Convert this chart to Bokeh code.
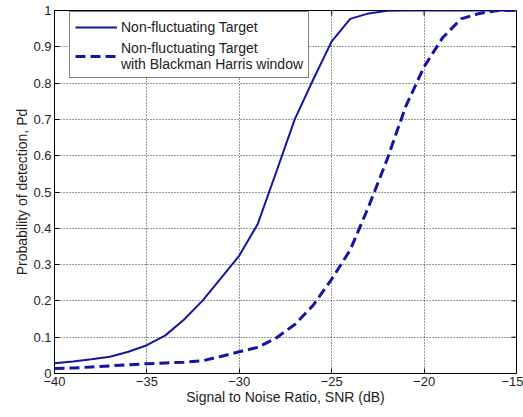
import math
from bokeh.plotting import figure
from bokeh.models import (FixedTicker, CustomJSTickFormatter, Legend,
                          LegendItem, Range1d)
from bokeh.embed import file_html
from bokeh.resources import INLINE

snr_db = [-40, -39, -38, -37, -36, -35, -34, -33, -32, -31, -30, -29, -28,
          -27, -26, -25, -24, -23, -22, -21, -20, -19, -18, -17, -16, -15]
pd_plain = [0.028, 0.033, 0.039, 0.046, 0.060, 0.078, 0.105, 0.148, 0.200,
            0.262, 0.325, 0.412, 0.555, 0.700, 0.810, 0.915, 0.977, 0.992,
            0.999, 1.0, 1.0, 1.0, 1.0, 1.0, 1.0, 1.0]
pd_window = [0.014, 0.015, 0.018, 0.021, 0.024, 0.027, 0.029, 0.031, 0.035,
             0.047, 0.060, 0.072, 0.098, 0.135, 0.188, 0.260, 0.340, 0.460,
             0.590, 0.735, 0.845, 0.925, 0.977, 0.992, 1.0, 1.0]
x_ticks = [-40, -35, -30, -25, -20, -15]
y_ticks = [0, 0.1, 0.2, 0.3, 0.4, 0.5, 0.6, 0.7, 0.8, 0.9, 1]
label_plain = "Non-fluctuating Target"
label_window = "Non-fluctuating Target\nwith Blackman Harris window"
x_title = "Signal to Noise Ratio, SNR (dB)"
y_title = "Probability of detection, Pd"

FONT = "Liberation Sans"
BLUE = "#1414a6"

x_lo, x_hi = -40, -15
y_lo, y_hi = 0, 1

p = figure(width=523, height=417, output_backend="svg", toolbar_location=None,
           x_range=Range1d(x_lo, x_hi), y_range=Range1d(y_lo, y_hi),
           min_border_left=54, min_border_right=7, min_border_top=10,
           min_border_bottom=44)
p.outline_line_color = "black"
p.outline_line_alpha = 1
p.outline_line_width = 1
p.background_fill_color = "white"
p.border_fill_color = "white"

p.xgrid.ticker = FixedTicker(ticks=x_ticks)
p.ygrid.ticker = FixedTicker(ticks=y_ticks)
for g in p.grid:
    g.grid_line_color = "black"
    g.grid_line_alpha = 0.8
    g.grid_line_dash = "1 2"
    g.grid_line_width = 1

# inward tick marks on the top and right edges (Matlab-style box)
p.ray(x=x_ticks, y=[y_hi] * len(x_ticks), length=5, length_units="screen",
      angle=-math.pi / 2, line_color="black", line_width=1)
p.ray(x=[x_hi] * len(y_ticks), y=y_ticks, length=5, length_units="screen",
      angle=math.pi, line_color="black", line_width=1)

r1 = p.line(snr_db, pd_plain, line_color=BLUE, line_width=2)
r2 = p.line(snr_db, pd_window, line_color=BLUE, line_width=3, line_dash="10 5")

fmt = CustomJSTickFormatter(code="return (Math.round(tick*10)/10).toString();")

for ax in p.xaxis:
    ax.ticker = FixedTicker(ticks=x_ticks)
for ax in p.yaxis:
    ax.ticker = FixedTicker(ticks=y_ticks)
    ax.formatter = fmt

for ax in p.axis:
    ax.major_tick_in = 5
    ax.major_tick_out = 0
    ax.minor_tick_in = 0
    ax.minor_tick_out = 0
    ax.major_label_text_font = FONT
    ax.major_label_text_font_size = "13px"
    ax.major_label_text_color = "#222222"
    ax.axis_label_text_font = FONT
    ax.axis_label_text_font_size = "14px"
    ax.axis_label_text_font_style = "normal"
    ax.axis_label_text_color = "#222222"
    ax.axis_line_color = "black"
    ax.major_tick_line_color = "black"

p.xaxis.axis_label = x_title
p.yaxis.axis_label = y_title
p.xaxis.major_label_standoff = 3
p.xaxis.axis_label_standoff = 0
p.yaxis.major_label_standoff = 3
p.yaxis.axis_label_standoff = 0

legend = Legend(items=[LegendItem(label=label_plain, renderers=[r1]),
                       LegendItem(label=label_window, renderers=[r2])],
                location=(15, 295))
legend.label_text_font = FONT
legend.label_text_font_size = "14px"
legend.label_text_color = "#222222"
legend.label_standoff = 4
legend.glyph_width = 42
legend.padding = 5
legend.spacing = 3
legend.margin = 0
legend.border_line_color = "black"
legend.border_line_width = 1
legend.background_fill_color = "white"
legend.background_fill_alpha = 1
p.add_layout(legend, "center")

open("out.html", "w").write(file_html(p, INLINE))
